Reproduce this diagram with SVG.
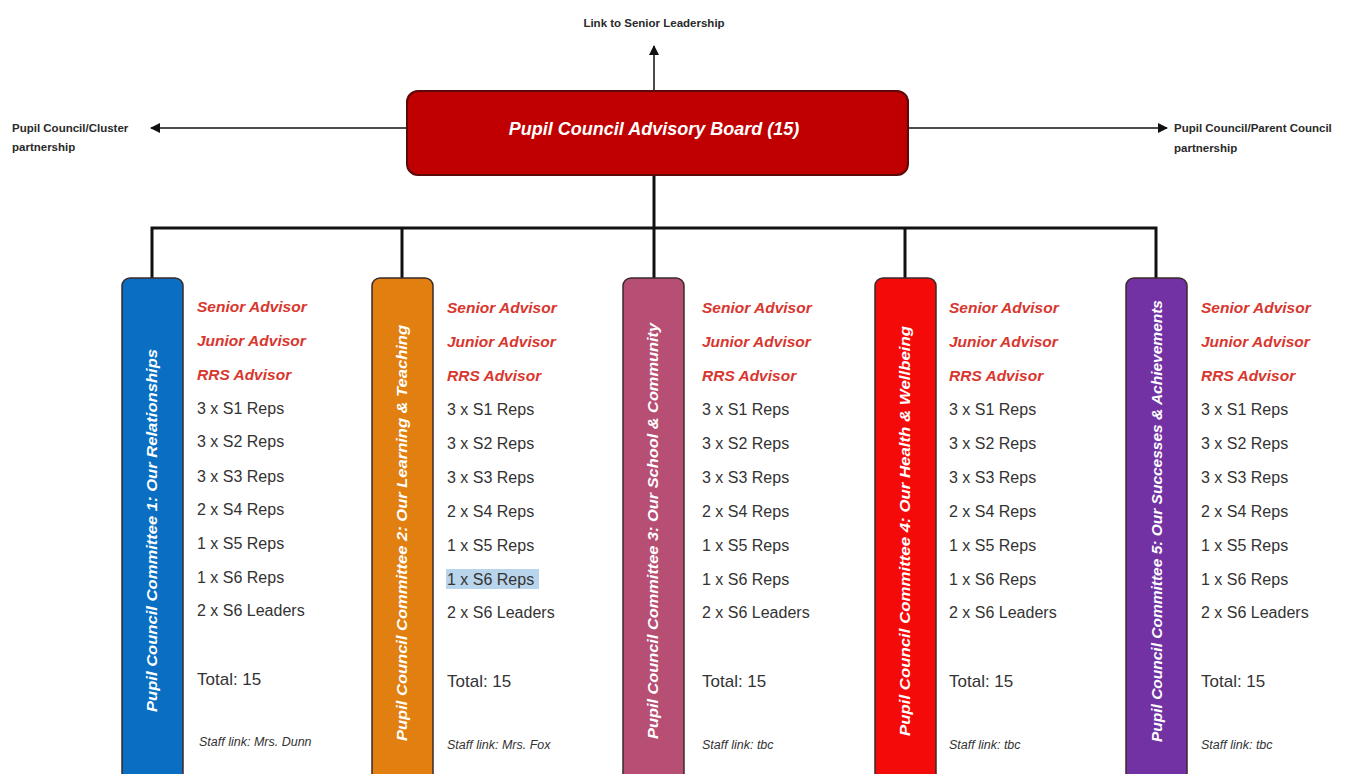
<svg xmlns="http://www.w3.org/2000/svg" width="1349" height="774" viewBox="0 0 1349 774">
<defs>
<marker id="ah" viewBox="0 0 10 10" refX="9" refY="5" markerWidth="10" markerHeight="10" markerUnits="userSpaceOnUse" orient="auto">
<path d="M0,0 L10,5 L0,10 Z" fill="#111"/>
</marker>
<style>
.lbl{font-family:"Liberation Sans",Arial,sans-serif;font-size:11.5px;font-weight:600;fill:#2a2a2a}
.bar{stroke:#3a2a2a;stroke-width:1.5}
.vt{font-family:"Liberation Sans",Arial,sans-serif;font-size:14px;font-weight:bold;font-style:italic;fill:#fff}
.adv{font-family:"Liberation Sans",Arial,sans-serif;font-size:15.5px;font-weight:bold;font-style:italic;fill:#d8372f}
.rep{font-family:"Liberation Sans",Arial,sans-serif;font-size:16px;fill:#333}
.tot{font-family:"Liberation Sans",Arial,sans-serif;font-size:17px;fill:#333}
.staff{font-family:"Liberation Sans",Arial,sans-serif;font-size:12.5px;font-style:italic;fill:#333}
.conn{stroke:#111;stroke-width:3;fill:none}
.arr{stroke:#111;stroke-width:1.5;fill:none}
</style>
</defs>
<rect width="1349" height="774" fill="#fff"/>

<g id="connectors">
<line class="conn" x1="654" y1="175" x2="654" y2="228"/>
<polyline class="conn" points="152,278 152,228 1156,228 1156,278"/>
<line class="conn" x1="402" y1="228" x2="402" y2="278"/>
<line class="conn" x1="654" y1="228" x2="654" y2="278"/>
<line class="conn" x1="905" y1="228" x2="905" y2="278"/>
<line class="arr" x1="654" y1="91" x2="654" y2="46" marker-end="url(#ah)"/>
<line class="arr" x1="407" y1="128" x2="151" y2="128" marker-end="url(#ah)"/>
<line class="arr" x1="908" y1="128" x2="1167" y2="128" marker-end="url(#ah)"/>
</g>

<g id="label-senior">
<text class="lbl" x="654" y="27" text-anchor="middle">Link to Senior Leadership</text>
</g>
<g id="label-cluster">
<text class="lbl" x="12" y="132">Pupil Council/Cluster</text>
<text class="lbl" x="12" y="151">partnership</text>
</g>
<g id="label-parent">
<text class="lbl" x="1174" y="132">Pupil Council/Parent Council</text>
<text class="lbl" x="1174" y="152">partnership</text>
</g>

<g id="board">
<rect x="407" y="91" width="501" height="84" rx="11" fill="#c00000" stroke="#5a0a0a" stroke-width="2"/>
<text x="654" y="135" text-anchor="middle" font-family="Liberation Sans, Arial, sans-serif" font-size="18" font-weight="bold" font-style="italic" fill="#fff">Pupil Council Advisory Board (15)</text>
</g>

<g id="committee1">
<rect class="bar" x="122" y="278" width="61" height="510" rx="8" fill="#0a6fc2"/>
<text class="vt" transform="translate(157,712) rotate(-90)" textLength="363" lengthAdjust="spacingAndGlyphs">Pupil Council Committee 1: Our Relationships</text>
<text class="adv" x="197" y="312">Senior Advisor</text>
<text class="adv" x="197" y="346">Junior Advisor</text>
<text class="adv" x="197" y="380">RRS Advisor</text>
<text class="rep" x="197" y="414">3 x S1 Reps</text>
<text class="rep" x="197" y="447">3 x S2 Reps</text>
<text class="rep" x="197" y="482">3 x S3 Reps</text>
<text class="rep" x="197" y="515">2 x S4 Reps</text>
<text class="rep" x="197" y="549">1 x S5 Reps</text>
<text class="rep" x="197" y="583">1 x S6 Reps</text>
<text class="rep" x="197" y="616">2 x S6 Leaders</text>
<text class="tot" x="197" y="685">Total: 15</text>
<text class="staff" x="199" y="746">Staff link: Mrs. Dunn</text>
</g>

<g id="committee2">
<rect class="bar" x="372" y="278" width="61" height="510" rx="8" fill="#e17f10"/>
<text class="vt" transform="translate(407,741) rotate(-90)" textLength="416" lengthAdjust="spacingAndGlyphs">Pupil Council Committee 2: Our Learning &amp; Teaching</text>
<text class="adv" x="447" y="313">Senior Advisor</text>
<text class="adv" x="447" y="347">Junior Advisor</text>
<text class="adv" x="447" y="381">RRS Advisor</text>
<text class="rep" x="447" y="415">3 x S1 Reps</text>
<text class="rep" x="447" y="449">3 x S2 Reps</text>
<text class="rep" x="447" y="483">3 x S3 Reps</text>
<text class="rep" x="447" y="517">2 x S4 Reps</text>
<text class="rep" x="447" y="551">1 x S5 Reps</text>
<rect x="446" y="569" width="93" height="20" fill="#b9d5ec"/>
<text class="rep" x="447" y="585">1 x S6 Reps</text>
<text class="rep" x="447" y="618">2 x S6 Leaders</text>
<text class="tot" x="447" y="687">Total: 15</text>
<text class="staff" x="447" y="749">Staff link: Mrs. Fox</text>
</g>

<g id="committee3">
<rect class="bar" x="623" y="278" width="61" height="510" rx="8" fill="#b74f75"/>
<text class="vt" transform="translate(658,739) rotate(-90)" textLength="416" lengthAdjust="spacingAndGlyphs">Pupil Council Committee 3: Our School &amp; Community</text>
<text class="adv" x="702" y="313">Senior Advisor</text>
<text class="adv" x="702" y="347">Junior Advisor</text>
<text class="adv" x="702" y="381">RRS Advisor</text>
<text class="rep" x="702" y="415">3 x S1 Reps</text>
<text class="rep" x="702" y="449">3 x S2 Reps</text>
<text class="rep" x="702" y="483">3 x S3 Reps</text>
<text class="rep" x="702" y="517">2 x S4 Reps</text>
<text class="rep" x="702" y="551">1 x S5 Reps</text>
<text class="rep" x="702" y="585">1 x S6 Reps</text>
<text class="rep" x="702" y="618">2 x S6 Leaders</text>
<text class="tot" x="702" y="687">Total: 15</text>
<text class="staff" x="702" y="749">Staff link: tbc</text>
</g>

<g id="committee4">
<rect class="bar" x="875" y="278" width="61" height="510" rx="8" fill="#f50a0a"/>
<text class="vt" transform="translate(910,736) rotate(-90)" textLength="410" lengthAdjust="spacingAndGlyphs">Pupil Council Committee 4: Our Health &amp; Wellbeing</text>
<text class="adv" x="949" y="313">Senior Advisor</text>
<text class="adv" x="949" y="347">Junior Advisor</text>
<text class="adv" x="949" y="381">RRS Advisor</text>
<text class="rep" x="949" y="415">3 x S1 Reps</text>
<text class="rep" x="949" y="449">3 x S2 Reps</text>
<text class="rep" x="949" y="483">3 x S3 Reps</text>
<text class="rep" x="949" y="517">2 x S4 Reps</text>
<text class="rep" x="949" y="551">1 x S5 Reps</text>
<text class="rep" x="949" y="585">1 x S6 Reps</text>
<text class="rep" x="949" y="618">2 x S6 Leaders</text>
<text class="tot" x="949" y="687">Total: 15</text>
<text class="staff" x="949" y="749">Staff link: tbc</text>
</g>

<g id="committee5">
<rect class="bar" x="1126" y="278" width="61" height="510" rx="8" fill="#7232a3"/>
<text class="vt" transform="translate(1162,742) rotate(-90)" textLength="442" lengthAdjust="spacingAndGlyphs">Pupil Council Committee 5: Our Successes &amp; Achievements</text>
<text class="adv" x="1201" y="313">Senior Advisor</text>
<text class="adv" x="1201" y="347">Junior Advisor</text>
<text class="adv" x="1201" y="381">RRS Advisor</text>
<text class="rep" x="1201" y="415">3 x S1 Reps</text>
<text class="rep" x="1201" y="449">3 x S2 Reps</text>
<text class="rep" x="1201" y="483">3 x S3 Reps</text>
<text class="rep" x="1201" y="517">2 x S4 Reps</text>
<text class="rep" x="1201" y="551">1 x S5 Reps</text>
<text class="rep" x="1201" y="585">1 x S6 Reps</text>
<text class="rep" x="1201" y="618">2 x S6 Leaders</text>
<text class="tot" x="1201" y="687">Total: 15</text>
<text class="staff" x="1201" y="749">Staff link: tbc</text>
</g>
</svg>
